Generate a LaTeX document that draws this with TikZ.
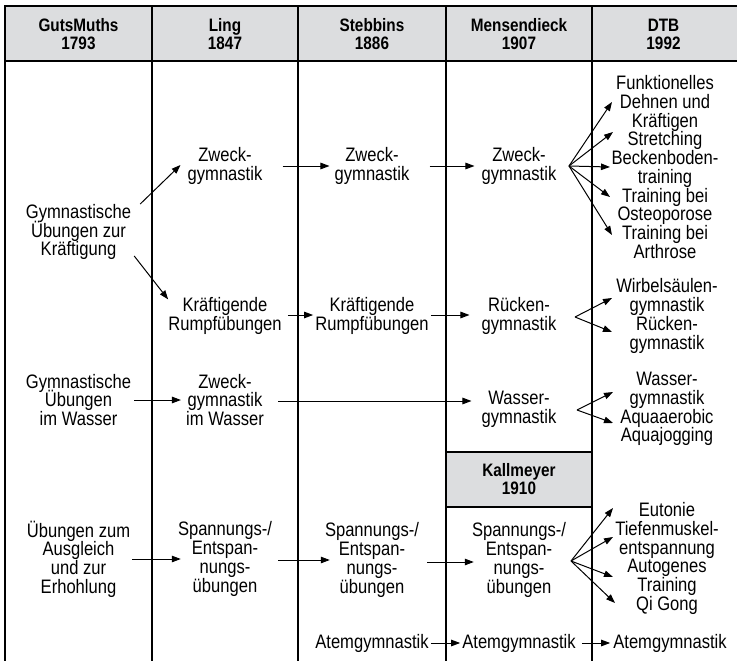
\documentclass[tikz,border=0pt]{standalone}
\usepackage{fontspec}
\setmainfont{Liberation Sans}[FakeStretch=0.85]
\usetikzlibrary{arrows.meta,calc}
\definecolor{hdrgray}{RGB}{220,221,223}
\newcommand\mytightlines{\lineskiplimit=-100pt\relax}
\newcommand\mytxtfont{\fontsize{19.5}{18.7}\selectfont\mytightlines}
\newcommand\myhdrfont{\fontsize{18}{18}\selectfont\bfseries\mytightlines}
\begin{document}
\begin{tikzpicture}[x=1pt,y=-1pt,
  txt/.style={align=center, inner sep=0pt, font=\mytxtfont},
  hdr/.style={align=center, inner sep=0pt, font=\myhdrfont},
  arr/.style={-{Triangle[length=9pt,width=6.5pt]}, line width=1pt},
  rulel/.style={line width=1.1pt}]
\useasboundingbox (0,0) rectangle (737,661);
\clip (0,0) rectangle (737,661);
% header
\draw[rulel, fill=hdrgray] (745,6) -- (5,6) -- (5,61) -- (745,61);
\foreach \x in {5,152,298,446,592} \draw[rulel] (\x,6) -- (\x,661);
\draw[rulel, fill=hdrgray] (446,452) rectangle (592,507);
\node[hdr] (h1) at (78.5,34) {GutsMuths\\1793};
\node[hdr] (h2) at (225,34) {Ling\\1847};
\node[hdr] (h3) at (372,34) {Stebbins\\1886};
\node[hdr] (h4) at (519,34) {Mensendieck\\1907};
\node[hdr] (h5) at (663.5,34) {DTB\\1992};
\node[hdr] (h6) at (519,479.5) {Kallmeyer\\1910};
% GutsMuths
\node[txt] (g1) at (78.5,232) {Gymnastische\\Übungen zur\\Kräftigung};
\node[txt] (g2) at (78.5,400) {Gymnastische\\Übungen\\im Wasser};
\node[txt] (g3) at (78.5,559) {Übungen zum\\Ausgleich\\und zur\\Erhohlung};
% Ling
\node[txt] (l1) at (225,166) {Zweck-\\gymnastik};
\node[txt] (l2) at (225,316) {Kräftigende\\Rumpfübungen};
\node[txt] (l3) at (225,400) {Zweck-\\gymnastik\\im Wasser};
\node[txt] (l4) at (225,559) {Spannungs-/\\Entspan-\\nungs-\\übungen};
% Stebbins
\node[txt] (s1) at (372,166) {Zweck-\\gymnastik};
\node[txt] (s2) at (372,316) {Kräftigende\\Rumpfübungen};
\node[txt] (s4) at (372,560) {Spannungs-/\\Entspan-\\nungs-\\übungen};
\node[txt] (s5) at (372,643) {Atemgymnastik};
% Mensendieck
\node[txt] (m1) at (519,166) {Zweck-\\gymnastik};
\node[txt] (m2) at (519,316) {Rücken-\\gymnastik};
\node[txt] (m3) at (519,409) {Wasser-\\gymnastik};
\node[txt] (m4) at (519,560) {Spannungs-/\\Entspan-\\nungs-\\übungen};
\node[txt] (m5) at (519,643) {Atemgymnastik};
% DTB
\node[txt] (d1) at (665,167) {Funktionelles\\Dehnen und\\Kräftigen\\Stretching\\Beckenboden-\\training\\Training bei\\Osteoporose\\Training bei\\Arthrose};
\node[txt] (d2) at (667,316) {Wirbelsäulen-\\gymnastik\\Rücken-\\gymnastik};
\node[txt] (d3) at (667,409) {Wasser-\\gymnastik\\Aquaaerobic\\Aquajogging};
\node[txt] (d4) at (667,558.5) {Eutonie\\Tiefenmuskel-\\entspannung\\Autogenes\\Training\\Qi Gong};
\node[txt] (d5) at (670,643) {Atemgymnastik};
% fork origins and tips
\coordinate (f1) at (569,166);
\coordinate (f2) at (575,317);
\coordinate (f3) at (577,410);
\coordinate (f4) at (571,561);
\coordinate (t11) at (612,102);
\coordinate (t12) at (613,132);
\coordinate (t13) at (610,167);
\coordinate (t14) at (610,197);
\coordinate (t15) at (612,235);
\coordinate (t21) at (612,298);
\coordinate (t22) at (612,332);
\coordinate (t31) at (613,392);
\coordinate (t32) at (613,423);
\coordinate (t41) at (613,508);
\coordinate (t42) at (613,537);
\coordinate (t43) at (613,577);
\coordinate (t44) at (615,603);
% arrows
\draw[arr] ($(g1.north east)+(9,0)$) -- ($(l1.west)+(-7,-1)$);
\draw[arr] ($(g1.south east)+(3,-4)$) -- ($(l2.north west)+(0,2)$);
\draw[arr] ($(l1.east)+(20,0)$) -- ($(s1.west)+(-5,0)$);
\draw[arr] ($(s1.east)+(20,0)$) -- ($(m1.west)+(-7,0)$);
\draw[arr] ($(l2.east)+(6,-1)$) -- ($(s2.west)+(-2,-1)$);
\draw[arr] ($(s2.east)+(2,-1)$) -- ($(m2.west)+(-12,-1)$);
\draw[arr] ($(g2.east)+(3,0)$) -- ($(l3.west)+(-5,0)$);
\draw[arr] ($(l3.east)+(14,1)$) -- ($(l3.east -| m3.west)+(-10,1)$);
\draw[arr] ($(g3.east)+(2,0)$) -- ($(l4.west)+(3,0)$);
\draw[arr] ($(l4.east)+(6,1)$) -- ($(l4.east -| s4.west)+(5,1)$);
\draw[arr] ($(s4.east)+(8,2)$) -- ($(s4.east -| m4.west)+(2,2)$);
\draw[arr] ($(s5.east)+(2,0)$) -- ($(m5.west)+(-2,0)$);
\draw[arr] ($(m5.east)+(6,0)$) -- ($(d5.west)+(-3,0)$);
\foreach \t in {t11,t12,t13,t14,t15} \draw[arr] (f1) -- (\t);
\foreach \t in {t21,t22} \draw[arr] (f2) -- (\t);
\foreach \t in {t31,t32} \draw[arr] (f3) -- (\t);
\foreach \t in {t41,t42,t43,t44} \draw[arr] (f4) -- (\t);
\end{tikzpicture}
\end{document}
